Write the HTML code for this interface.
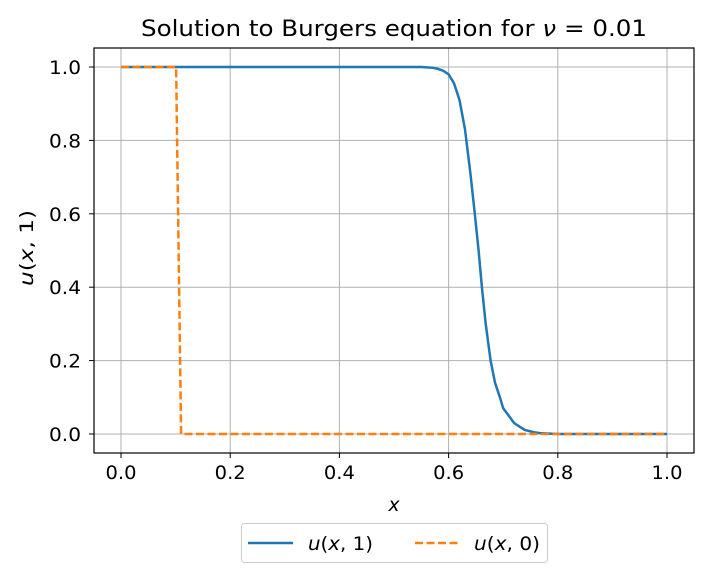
<!DOCTYPE html>
<html><head><meta charset="utf-8"><style>
body{margin:0;background:#fff;}
svg text{font-family:"DejaVu Sans","Liberation Sans",sans-serif;}
</style></head><body>
<svg width="709" height="579" viewBox="0 0 709 579" xmlns="http://www.w3.org/2000/svg">
<g id="grid"></g>
<g id="series"></g>
<rect x="94" y="48" width="600" height="405" fill="none" stroke="#000" stroke-width="1.2"/>
<g id="ticks"></g>
<text x="394" y="36" font-size="22" text-anchor="middle" textLength="506" lengthAdjust="spacingAndGlyphs">Solution to Burgers equation for <tspan font-style="italic">ν</tspan> = 0.01</text>
<text x="394" y="511" font-size="19" font-style="italic" text-anchor="middle">x</text>
<text x="0" y="0" font-size="19" text-anchor="middle" textLength="76" lengthAdjust="spacingAndGlyphs" transform="translate(33,248) rotate(-90)"><tspan font-style="italic">u</tspan>(<tspan font-style="italic">x</tspan>, 1)</text>
<g>
<rect x="241.5" y="523.5" width="306" height="39" rx="3" fill="#fff" stroke="#ccc" stroke-width="1"/>
<line x1="248" y1="543" x2="293" y2="543" stroke="#1f77b4" stroke-width="2.5"/>
<text x="308" y="550" font-size="19" textLength="65" lengthAdjust="spacingAndGlyphs"><tspan font-style="italic">u</tspan>(<tspan font-style="italic">x</tspan>, 1)</text>
<line x1="415" y1="543" x2="460" y2="543" stroke="#ff7f0e" stroke-width="2.5" stroke-dasharray="8,3.5"/>
<text x="474" y="550" font-size="19" textLength="66" lengthAdjust="spacingAndGlyphs"><tspan font-style="italic">u</tspan>(<tspan font-style="italic">x</tspan>, 0)</text>
</g>
</svg>
<script>
const xTicks=[0,0.2,0.4,0.6,0.8,1.0];
const xTickLabels=["0.0","0.2","0.4","0.6","0.8","1.0"];
const yTicks=[0,0.2,0.4,0.6,0.8,1.0];
const yTickLabels=["0.0","0.2","0.4","0.6","0.8","1.0"];
const u1X=[0,0.1,0.2,0.3,0.4,0.5,0.55,0.57,0.58,0.59,0.6,0.61,0.62,0.63,0.64,0.648,0.655,0.661,0.668,0.677,0.685,0.694,0.70,0.71,0.72,0.73,0.74,0.756,0.77,0.8,0.9,1.0];
const u1Y=[1,1,1,1,1,1,1,0.998,0.995,0.99,0.98,0.955,0.91,0.83,0.71,0.6,0.5,0.4,0.3,0.2,0.14,0.1,0.07,0.05,0.03,0.02,0.011,0.005,0.002,0,0,0];
const u0X=[0,0.101,0.11,1.0];
const u0Y=[1,1,0,0];
const NS="http://www.w3.org/2000/svg";
const sx=v=>121+v*546, sy=v=>434-v*367;
const grid=document.getElementById('grid'),ticks=document.getElementById('ticks'),series=document.getElementById('series');
function mk(tag,attrs,parent){const e=document.createElementNS(NS,tag);for(const k in attrs)e.setAttribute(k,attrs[k]);parent.appendChild(e);return e;}
xTicks.forEach((t,i)=>{
 const g=mk('line',{x1:sx(t),x2:sx(t),y1:48,y2:453,stroke:'#b0b0b0','stroke-width':1},grid);
 
 
 const tk=mk('line',{x1:sx(t),x2:sx(t),y1:453,y2:458,stroke:'#000','stroke-width':1},ticks);
 
 
 const tx=mk('text',{x:sx(t),y:479,'font-size':19,'text-anchor':'middle',textLength:31,lengthAdjust:'spacingAndGlyphs'},ticks);
 tx.textContent=xTickLabels[i];
 
 
});
yTicks.forEach((t,i)=>{
 const g=mk('line',{x1:94,x2:694,y1:sy(t),y2:sy(t),stroke:'#b0b0b0','stroke-width':1},grid);
 
 
 const tk=mk('line',{x1:89,x2:94,y1:sy(t),y2:sy(t),stroke:'#000','stroke-width':1},ticks);
 
 
 const tx=mk('text',{x:81,y:sy(t)+7,'font-size':19,'text-anchor':'end',textLength:32,lengthAdjust:'spacingAndGlyphs'},ticks);
 tx.textContent=yTickLabels[i];
 
 
});
function pts(X,Y){return X.map((x,i)=>sx(x).toFixed(1)+','+sy(Y[i]).toFixed(1)).join(' ');}
const l1=mk('polyline',{points:pts(u1X,u1Y),fill:'none',stroke:'#1f77b4','stroke-width':2.5,'stroke-linejoin':'round'},series);


const l0=mk('polyline',{points:pts(u0X,u0Y),fill:'none',stroke:'#ff7f0e','stroke-width':2.5,'stroke-dasharray':'8,3.5'},series);


</script>
</body></html>
